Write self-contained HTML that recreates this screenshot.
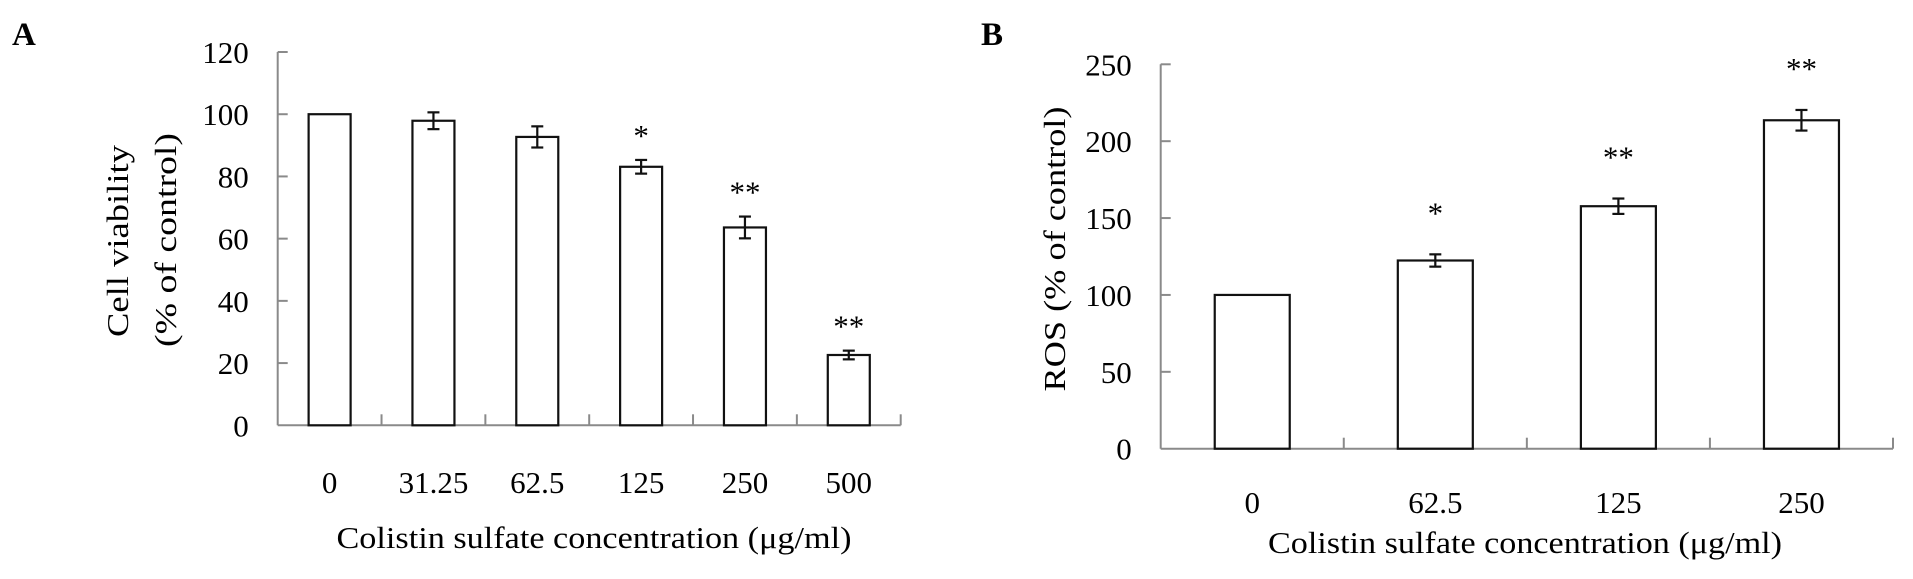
<!DOCTYPE html>
<html><head><meta charset="utf-8"><style>
html,body{margin:0;padding:0;background:#fff;}
svg{display:block;font-family:"Liberation Serif",serif;}
</style></head><body>
<svg id="fig" width="1913" height="579" viewBox="0 0 1913 579" xmlns="http://www.w3.org/2000/svg">
<rect width="1913" height="579" fill="#fff"/>
<text x="12" y="45" font-size="33" font-weight="bold">A</text>
<text x="981" y="45" font-size="33" font-weight="bold">B</text>
<g id="chartA"></g>
<g id="chartB"></g>
<text transform="translate(128,241) rotate(-90)" text-anchor="middle" font-size="31" textLength="192" lengthAdjust="spacingAndGlyphs">Cell viability</text>
<text transform="translate(176,240) rotate(-90)" text-anchor="middle" font-size="31" textLength="214" lengthAdjust="spacingAndGlyphs">(% of control)</text>
<text transform="translate(1065,249) rotate(-90)" text-anchor="middle" font-size="31" textLength="285" lengthAdjust="spacingAndGlyphs">ROS  (% of control)</text>
<text x="594" y="548" text-anchor="middle" font-size="31" textLength="515" lengthAdjust="spacingAndGlyphs">Colistin sulfate concentration (μg/ml)</text>
<text x="1525" y="553" text-anchor="middle" font-size="31" textLength="514" lengthAdjust="spacingAndGlyphs">Colistin sulfate concentration (μg/ml)</text>
</svg>
<script>
const catsA = ["0","31.25","62.5","125","250","500"];
const valsA = [100, 97.9, 92.7, 83.1, 63.6, 22.6];
const errsA = [0, 2.7, 3.4, 2.2, 3.5, 1.4];
const sigA = ["", "", "", "*", "**", "**"];
const ticksA = [0,20,40,60,80,100,120];

const catsB = ["0","62.5","125","250"];
const valsB = [100, 122.4, 157.7, 213.6];
const errsB = [0, 4, 5, 6.7];
const sigB = ["", "*", "**", "**"];
const ticksB = [0,50,100,150,200,250];

const NS = "http://www.w3.org/2000/svg";
function mk(parent, tag, attrs){
  const e = document.createElementNS(NS, tag);
  for (const k in attrs) e.setAttribute(k, attrs[k]);
  parent.appendChild(e);
  return e;
}
function draw(cfg){
  const g = document.getElementById(cfg.id);
  const n = cfg.cats.length;
  const step = (cfg.x1 - cfg.x0) / n;
  const yS = v => cfg.y0 - (v - 0) / cfg.max * (cfg.y0 - cfg.yTop);
  const xC = i => cfg.x0 + step * (i + 0.5);
  // axes
  const ya = mk(g, "line", {x1:cfg.x0, y1:yS(cfg.max), x2:cfg.x0, y2:cfg.y0, stroke:"#8a8a8a", "stroke-width":2});
  
  
  const xa = mk(g, "line", {x1:cfg.x0, y1:cfg.y0, x2:cfg.x1, y2:cfg.y0, stroke:"#8a8a8a", "stroke-width":2});
  
  
  cfg.ticks.forEach(t => {
    const y = yS(t);
    if (t > 0) {
      const tl = mk(g, "line", {x1:cfg.x0, y1:y, x2:cfg.x0 + 10, y2:y, stroke:"#8a8a8a", "stroke-width":2});
      
      
    }
    const tx = mk(g, "text", {x:cfg.x0 - 29, y:y + 11, "text-anchor":"end", "font-size":31});
    
    
    tx.textContent = String(t);
  });
  for (let i = 1; i <= n; i++) {
    const x = cfg.x0 + step * i;
    const tk = mk(g, "line", {x1:x, y1:cfg.y0, x2:x, y2:cfg.y0 - 11, stroke:"#8a8a8a", "stroke-width":2});
    
    
  }
  cfg.cats.forEach((c, i) => {
    const cx = xC(i);
    const top = yS(cfg.vals[i]);
    const r = mk(g, "rect", {x:cx - cfg.bw/2, y:top, width:cfg.bw, height:cfg.y0 - top, fill:"#fff", stroke:"#111", "stroke-width":2.2});
    
    
    const e = cfg.errs[i];
    if (e > 0) {
      const eg = mk(g, "g", {stroke:"#111", "stroke-width":2.2});
      
      
      mk(eg, "line", {x1:cx, y1:yS(cfg.vals[i] + e), x2:cx, y2:yS(cfg.vals[i] - e)});
      mk(eg, "line", {x1:cx - 6, y1:yS(cfg.vals[i] + e), x2:cx + 6, y2:yS(cfg.vals[i] + e)});
      mk(eg, "line", {x1:cx - 6, y1:yS(cfg.vals[i] - e), x2:cx + 6, y2:yS(cfg.vals[i] - e)});
    }
    if (cfg.sig[i]) {
      const s = mk(g, "text", {x:cx, y:yS(cfg.vals[i] + e) - cfg.sigOff + 15, "text-anchor":"middle", "font-size":31});
      
      
      s.textContent = cfg.sig[i];
    }
    const lb = mk(g, "text", {x:cx, y:cfg.labY, "text-anchor":"middle", "font-size":31});
    
    
    lb.textContent = c;
  });
}
draw({id:"chartA", cats:catsA, vals:valsA, errs:errsA, sig:sigA, ticks:ticksA, max:120,
      x0:277.7, x1:900.7, y0:425.3, yTop:52, bw:42, sigOff:29, labY:493});
draw({id:"chartB", cats:catsB, vals:valsB, errs:errsB, sig:sigB, ticks:ticksB, max:250,
      x0:1160.7, x1:1893, y0:448.7, yTop:64.3, bw:75, sigOff:46, labY:513});
</script>
</body></html>
